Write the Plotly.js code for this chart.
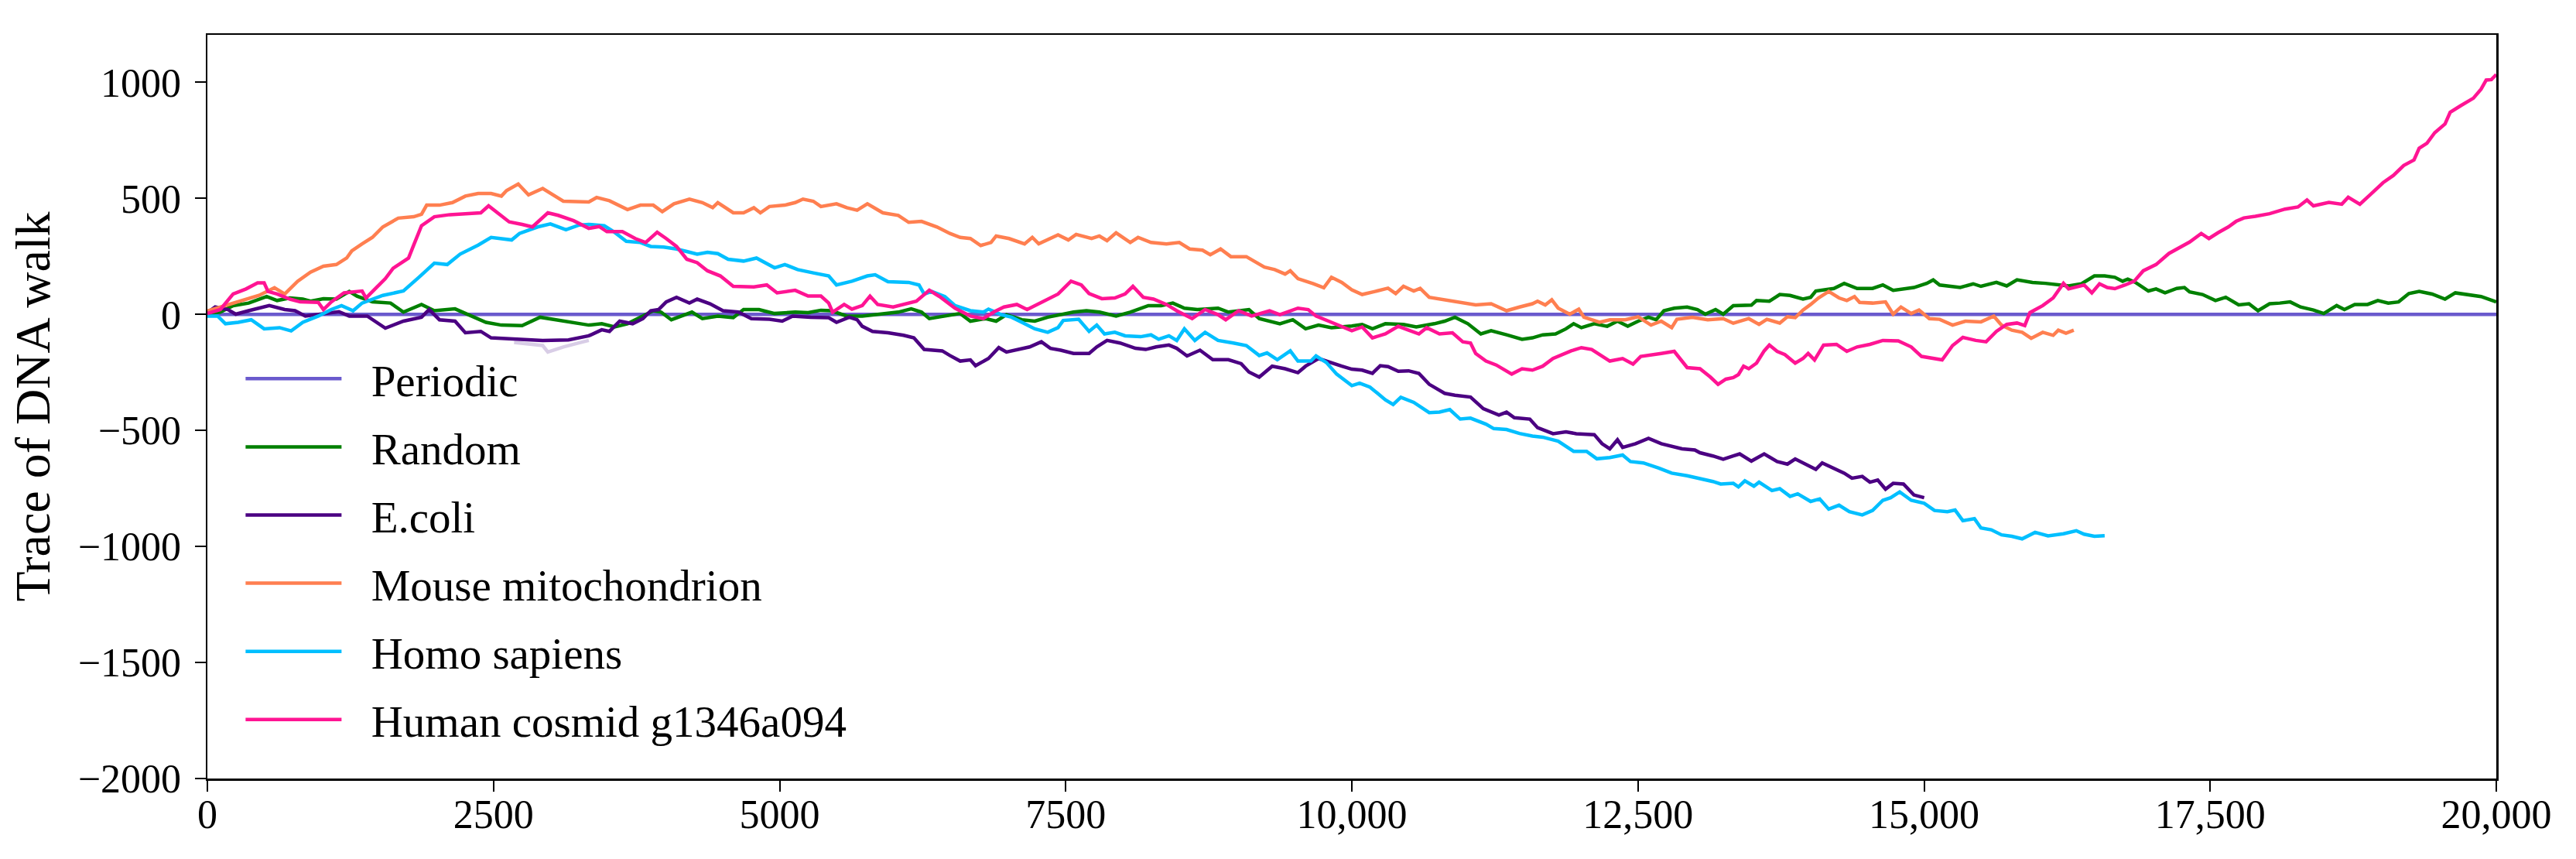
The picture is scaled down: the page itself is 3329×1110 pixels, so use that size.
<!DOCTYPE html>
<html>
<head>
<meta charset="utf-8">
<script src="https://cdn.plot.ly/plotly-3.0.1.min.js"></script>
<style>
  html, body { margin: 0; padding: 0; background: #ffffff; }
  #chart { width: 3329px; height: 1110px; }
</style>
</head>
<body>
<div id="chart"></div>
<script>
// ---------- data ----------
const periodicX = [0, 20000];
const periodicY = [0, 0];

const randomX = [0,113,225,361,518,609,721,834,901,1014,1127,1240,1307,1442,1600,1713,1871,1983,2164,2276,2434,2569,2750,2907,3042,3223,3333,
  3446,3558,3671,3784,3896,3964,4054,4234,4325,4460,4595,4685,4820,4956,5136,5249,5361,5452,5587,5722,5857,6037,6150,6240,6308,6488,6578,6667,
  6802,6892,6982,7117,7230,7343,7456,7568,7681,7794,7940,8064,8222,8334,8436,8537,8650,8831,8921,9101,9191,9371,9484,9596,9709,9822,10000,
  10090,10180,10293,10451,10563,10721,10811,10901,11014,11127,11217,11352,11487,11578,11668,11780,11871,11938,12006,12118,12231,12321,12411,12502,12592,12659,12727,12817,12930,13020,13088,13178,13245,13333,
  13491,13536,13648,13739,13829,13942,14009,14054,14212,14302,14415,14550,14640,14730,14911,15023,15080,15136,15316,15429,15497,15632,15722,15812,15947,16060,16173,16263,16375,16488,16578,16667,
  16735,16780,16847,16960,17027,17106,17208,17275,17320,17433,17546,17636,17749,17839,17918,18019,18109,18199,18289,18402,18492,18605,18673,18763,18875,18965,19056,19146,19236,19326,19439,19552,19642,19777,19867,20000];
const randomY = [4,10,38,49,77,60,71,66,57,68,66,99,79,54,49,10,43,16,24,1,-34,-46,-48,-12,-23,-40,-46,
  -40,-54,-40,-12,16,10,-23,10,-18,-7,-14,21,21,4,10,8,18,16,-7,-7,-1,10,24,10,-18,-1,4,-29,
  -18,-29,-1,-23,-29,-12,-1,10,16,10,-7,10,38,38,49,27,21,27,10,21,-18,-40,-23,-62,-46,-57,-50,
  -43,-62,-40,-43,-54,-40,-29,-12,-40,-84,-70,-88,-107,-101,-88,-84,-62,-40,-57,-40,-51,-29,-51,-29,-12,-23,16,27,32,21,1,21,1,38,
  40,60,57,86,82,66,74,101,112,134,112,112,127,104,116,134,149,127,116,132,121,138,123,149,138,134,127,123,132,166,166,160,
  143,152,138,101,110,93,112,116,97,86,60,74,41,46,16,46,49,54,32,19,4,38,21,43,43,60,49,54,90,99,88,66,93,82,77,54];

const ecoliX = [0,68,180,248,361,541,676,766,856,992,1149,1240,1397,1555,1713,1871,1938,2028,2164,2254,2389,2479,2704,2930,3155,3333,
  3446,3513,3603,3716,3806,3874,3942,4009,4099,4212,4280,4392,4505,4640,4753,4911,5023,5114,5271,5429,5497,5609,5677,5722,5812,5947,6083,6173,6263,6421,6488,6578,6667,
  6712,6825,6915,6982,7073,7185,7287,7366,7456,7568,7704,7771,7861,7974,8109,8199,8290,8402,8470,8560,8673,8785,8921,9033,9101,9191,9304,9417,9529,9596,9709,9822,9912,10000,
  10090,10180,10248,10316,10406,10496,10586,10676,10811,10901,11037,11149,11285,11352,11420,11555,11623,11758,11871,11961,12118,12186,12254,12321,12366,12479,12592,12704,12795,12885,12997,13042,13155,13245,13333,
  13389,13491,13603,13716,13806,13874,13987,14054,14110,14189,14302,14370,14460,14527,14595,14663,14730,14820,14911,15001];
const ecoliY = [8,32,21,1,16,38,21,16,-7,1,12,-7,-7,-59,-29,-12,21,-23,-29,-79,-73,-101,-107,-112,-110,-92,
  -66,-73,-29,-40,-18,16,21,54,74,49,66,46,16,10,-18,-21,-29,-7,-12,-14,-34,-12,-23,-51,-73,-79,-90,-101,-151,-157,-177,-201,-196,
  -221,-190,-143,-162,-151,-140,-118,-146,-154,-168,-168,-140,-112,-123,-146,-151,-140,-132,-146,-179,-154,-195,-195,-212,-248,-270,-223,-234,-251,-223,-190,-210,-223,-236,
  -240,-254,-221,-225,-245,-243,-254,-301,-340,-348,-356,-406,-434,-421,-445,-451,-488,-514,-506,-514,-518,-557,-579,-540,-573,-557,-534,-557,-568,-579,-584,-596,-610,-624,-610,
  -601,-632,-601,-634,-645,-623,-651,-668,-640,-657,-684,-706,-698,-723,-714,-753,-728,-731,-778,-790];

// faint lavender segment visible under the E.coli walk
const faintX = [2680,2930,2975,3110,3245,3333];
const faintY = [-121,-134,-162,-140,-123,-112];

const mouseX = [0,113,225,338,451,586,676,789,901,1014,1127,1217,1262,1352,1442,1533,1668,1803,1871,1916,2028,2141,2254,2366,2479,2569,2614,2716,2806,2930,3110,3333,
  3401,3513,3671,3784,3896,3975,4077,4212,4325,4415,4460,4595,4685,4775,4832,4911,5046,5136,5204,5294,5361,5497,5587,5677,5767,5902,6037,6128,6240,6375,6488,6578,6667,
  6757,6847,6892,7005,7140,7208,7264,7433,7523,7591,7726,7794,7861,7940,8064,8132,8245,8380,8492,8583,8695,8763,8853,8943,9078,9236,9326,9417,9462,9529,9664,9755,9822,9912,10000,
  10090,10203,10316,10383,10451,10541,10597,10676,10811,10947,11082,11217,11352,11465,11578,11623,11690,11747,11803,11904,11983,12028,12164,12254,12389,12502,12614,12704,12795,12840,12975,13110,13245,13333,
  13468,13558,13626,13739,13806,13874,13942,14009,14077,14167,14257,14325,14392,14437,14550,14663,14730,14798,14888,14956,15046,15136,15249,15361,15497,15609,15677,15767,15857,15936,16037,16128,16173,16240,16308];
const mouseY = [15,32,49,65,82,115,88,143,182,208,215,243,274,304,332,377,415,421,432,471,471,482,510,521,521,510,534,562,515,543,488,485,
  504,490,452,471,471,443,477,497,482,460,482,438,438,460,438,465,471,482,497,488,465,477,460,449,477,438,427,397,401,377,349,332,327,
  297,310,338,327,304,332,304,343,321,345,327,338,318,352,310,332,310,304,310,282,277,257,282,249,249,204,193,174,188,154,132,115,160,138,106,
  86,99,113,90,121,101,112,74,63,49,41,46,16,32,46,57,41,63,27,1,23,-12,-34,-23,-23,-10,-46,-29,-57,-21,-12,-23,-18,-38,
  -18,-43,-21,-37,-10,-14,19,43,71,99,71,60,77,52,49,54,1,32,4,19,-18,-21,-46,-29,-32,-7,-46,-68,-77,-103,-77,-90,-68,-81,-68];

const homoX = [0,90,158,270,383,496,631,732,834,969,1082,1172,1273,1352,1533,1713,1848,1983,2096,2209,2366,2479,2659,2727,2885,2997,3133,3245,3333,
  3468,3558,3660,3784,3874,3987,4099,4189,4280,4370,4460,4550,4685,4798,4956,5046,5158,5294,5429,5497,5632,5767,5835,5947,6128,6218,6263,6330,6443,6533,6667,
  6780,6825,6937,7027,7117,7230,7343,7433,7478,7613,7704,7771,7839,7929,8019,8154,8245,8312,8402,8470,8537,8628,8718,8831,8965,9078,9191,9259,9349,9462,9529,9642,9687,9777,9867,10000,
  10068,10158,10225,10293,10361,10428,10541,10676,10766,10856,10947,11037,11172,11240,11352,11465,11578,11668,11803,11938,12051,12141,12254,12366,12434,12547,12682,12795,12930,13042,13155,13223,13333,
  13378,13434,13513,13558,13671,13739,13829,13896,14009,14088,14167,14257,14347,14460,14550,14640,14708,14787,14888,15001,15091,15204,15271,15339,15440,15497,15587,15677,15767,15857,15970,16083,16218,16330,16398,16488,16578];
const homoY = [-7,-7,-40,-34,-23,-62,-57,-71,-34,-7,21,38,16,49,82,101,160,221,215,260,299,332,321,349,377,390,365,385,388,
  382,354,315,310,293,290,282,271,260,268,262,238,230,243,201,215,193,179,166,127,143,166,171,141,138,127,88,99,77,38,16,
  10,23,-1,-12,-34,-62,-77,-57,-26,-21,-73,-46,-84,-77,-92,-96,-88,-107,-92,-112,-62,-112,-77,-112,-123,-134,-177,-166,-195,-157,-201,-201,-179,-207,-257,-307,
  -296,-313,-340,-368,-388,-357,-379,-423,-421,-410,-451,-447,-473,-492,-496,-513,-524,-529,-546,-590,-590,-622,-617,-606,-634,-640,-662,-684,-695,-706,-720,-731,-728,
  -743,-717,-740,-723,-759,-751,-784,-773,-806,-795,-839,-822,-850,-864,-845,-801,-790,-765,-801,-814,-845,-850,-843,-889,-880,-920,-928,-950,-956,-967,-939,-954,-945,-932,-947,-956,-954];

const cosmidX = [0,113,225,338,439,496,530,609,721,811,969,1014,1082,1194,1352,1386,1465,1555,1623,1758,1803,1871,1983,2118,2254,2389,2457,2524,2637,2750,2840,2975,3065,3200,3333,
  3423,3491,3626,3739,3829,3930,4009,4099,4189,4280,4370,4482,4595,4685,4775,4888,4978,5136,5249,5361,5429,5463,5564,5632,5722,5790,5857,5992,6083,6195,6308,6398,6533,6667,
  6780,6870,6960,7073,7163,7253,7321,7433,7546,7636,7704,7816,7929,8019,8087,8177,8267,8380,8470,8605,8718,8831,8898,9011,9124,9281,9371,9529,9619,9687,9822,9912,10000,
  10090,10180,10293,10406,10496,10586,10654,10766,10879,10969,11037,11082,11172,11262,11397,11487,11578,11668,11758,11916,12006,12096,12254,12366,12457,12524,12704,12817,12930,13042,13133,13200,13268,13333,
  13378,13423,13468,13536,13603,13648,13716,13784,13874,13942,13987,14043,14122,14235,14325,14415,14527,14640,14775,14888,14978,15068,15158,15249,15339,15452,15542,15632,15722,15812,15880,15925,16037,16128,16218,16263,16398,16466,16533,16601,16667,
  16757,16836,16915,17027,17140,17230,17320,17422,17489,17568,17658,17726,17794,17895,18019,18154,18267,18346,18402,18537,18650,18706,18808,18898,19011,19101,19191,19281,19326,19394,19462,19552,19597,19687,19800,19867,19912,19957,20000];
const cosmidY = [4,21,88,110,136,136,99,88,66,54,52,21,54,93,101,71,110,154,199,243,299,382,421,430,434,438,468,441,399,388,377,438,427,404,371,
  379,357,357,327,310,354,327,293,238,223,188,166,121,119,119,127,93,104,79,79,49,10,43,23,38,79,43,32,43,57,104,77,27,-7,
  -18,10,32,43,21,43,63,88,143,127,90,68,71,88,121,74,66,43,16,-18,21,-1,-23,16,-7,16,-1,27,21,-7,-34,-51,-70,
  -54,-101,-84,-51,-68,-84,-57,-84,-79,-118,-123,-168,-201,-218,-257,-234,-240,-223,-190,-157,-143,-151,-201,-190,-214,-181,-168,-159,-229,-234,-270,-301,-279,-272,
  -259,-223,-234,-210,-157,-132,-159,-173,-210,-190,-168,-196,-132,-129,-159,-140,-129,-112,-114,-140,-181,-190,-196,-134,-99,-112,-118,-73,-43,-37,-48,8,38,71,134,110,127,93,132,116,111,
  127,143,188,215,263,288,312,349,327,352,377,401,416,423,434,454,463,493,468,483,475,505,475,516,568,599,642,666,716,738,783,821,871,899,932,971,1010,1012,1034];

const xTickVals = [0, 2500, 5000, 7500, 10000, 12500, 15000, 17500, 20000];
const xTickText = ['0', '2500', '5000', '7500', '10,000', '12,500', '15,000', '17,500', '20,000'];
const yTickVals = [-2000, -1500, -1000, -500, 0, 500, 1000];
const yTickText = ['\u22122000', '\u22121500', '\u22121000', '\u2212500', '0', '500', '1000'];

const seriesNames = ['Periodic', 'Random', 'E.coli', 'Mouse mitochondrion', 'Homo sapiens', 'Human cosmid g1346a094'];
const seriesColors = ['#6a5acd', '#008000', '#4b0082', '#ff7f50', '#00bfff', '#ff1493'];

// ---------- chart ----------
const FONT = 'Liberation Serif, Times New Roman, serif';
const pad = '\u00a0\u00a0\u200a';
function lineTrace(x, y, i) {
  return {
    x: x, y: y, type: 'scatter', mode: 'lines',
    name: pad + seriesNames[i], legendgroup: 'g' + i,
    line: { color: seriesColors[i], width: 4.5 },
    hoverinfo: 'skip'
  };
}

const traces = [
  lineTrace(periodicX, periodicY, 0),
  lineTrace(randomX, randomY, 1),
  { x: faintX, y: faintY, type: 'scatter', mode: 'lines', showlegend: false,
    line: { color: '#d8cde6', width: 4.5 }, hoverinfo: 'skip' },
  lineTrace(ecoliX, ecoliY, 2),
  lineTrace(mouseX, mouseY, 3),
  lineTrace(homoX, homoY, 4),
  lineTrace(cosmidX, cosmidY, 5)
];

const layout = {
  width: 3329, height: 1110,
  margin: { l: 268, r: 103, t: 45, b: 104, pad: 0 },
  paper_bgcolor: '#ffffff', plot_bgcolor: '#ffffff',
  font: { family: FONT, color: '#000000', size: 52 },
  showlegend: true,
  legend: {
    x: 0.015, y: 0.583, xanchor: 'left', yanchor: 'top',
    bgcolor: 'rgba(0,0,0,0)', borderwidth: 0,
    font: { family: FONT, size: 57, color: '#000000' },
    itemwidth: 124, traceorder: 'grouped', tracegroupgap: 11
  },
  xaxis: {
    range: [0, 20000], autorange: false,
    tickmode: 'array', tickvals: xTickVals, ticktext: xTickText,
    ticks: 'outside', ticklen: 14, tickwidth: 2, tickcolor: '#000000',
    showline: true, linecolor: '#000000', linewidth: 2.5, mirror: true,
    showgrid: false, zeroline: false, automargin: false,
    ticklabelstandoff: -15,
    tickfont: { family: FONT, size: 52, color: '#000000' }
  },
  yaxis: {
    range: [-2000, 1205], autorange: false,
    tickmode: 'array', tickvals: yTickVals, ticktext: yTickText,
    ticks: 'outside', ticklen: 14, tickwidth: 2, tickcolor: '#000000',
    showline: true, linecolor: '#000000', linewidth: 2.5, mirror: true,
    showgrid: false, zeroline: false, automargin: false,
    ticklabelstandoff: 7,
    tickfont: { family: FONT, size: 52, color: '#000000' },
    title: { text: '\u00a0\u00a0\u00a0Trace of DNA walk', font: { family: FONT, size: 64, color: '#000000' }, standoff: 16 }
  }
};

Plotly.newPlot('chart', traces, layout, { staticPlot: true, displayModeBar: false });
</script>
</body>
</html>
